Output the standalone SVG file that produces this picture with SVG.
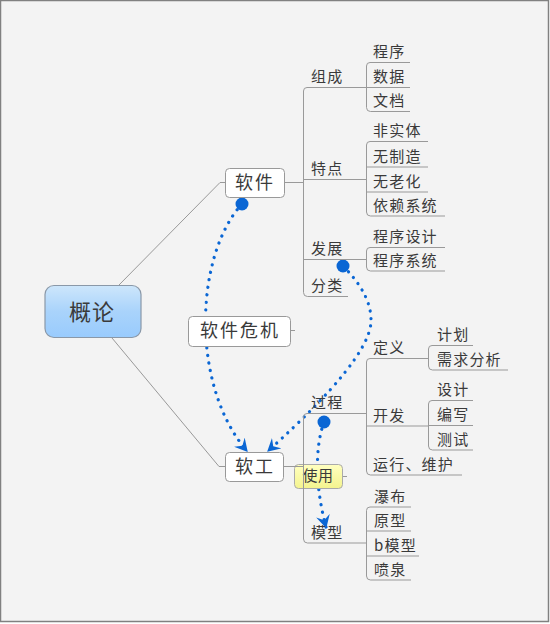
<svg xmlns="http://www.w3.org/2000/svg" width="550" height="624" viewBox="0 0 550 624">
<defs>
<linearGradient id="gCenter" x1="0" y1="0" x2="0" y2="1">
<stop offset="0" stop-color="#cde6fb"/>
<stop offset="0.5" stop-color="#a9d3fb"/>
<stop offset="1" stop-color="#99cbfd"/>
</linearGradient>
<linearGradient id="gNote" x1="0" y1="0" x2="0" y2="1">
<stop offset="0" stop-color="#ffffc0"/>
<stop offset="1" stop-color="#f4f48e"/>
</linearGradient>
<marker id="arr" markerUnits="userSpaceOnUse" markerWidth="14" markerHeight="14" refX="10" refY="6" orient="auto" viewBox="0 0 12 12">
<path d="M0,0 L11,6 L0,12 L4,6 Z" fill="#0a66d4"/>
</marker>
<style>
.t{font-family:"Noto Sans CJK SC","Liberation Sans",sans-serif;fill:#3a3a3a;}
.s{font-size:15px;letter-spacing:1.2px;}
.n{font-size:18px;letter-spacing:2px;text-anchor:middle;}
.ln{fill:none;stroke:#999;stroke-width:1;}
.rel{fill:none;stroke:#0a66d4;stroke-width:3.2;stroke-linecap:round;stroke-dasharray:0.1 7.5;}
.box{fill:#fff;stroke:#999;stroke-width:1;}
.dot{fill:#0a66d4;}
</style>
</defs>
<rect x="0.5" y="0.5" width="548" height="621" fill="#f3f3f3" stroke="#808080" stroke-width="1.5"/>

<g id="relationships">
<path class="rel" d="M242,204 C195,255 190,385 247,451" marker-end="url(#arr)"/>
<path class="rel" d="M343,266 Q372,295 371,322 Q369,360 268,451" marker-end="url(#arr)"/>
<path class="rel" d="M324,422 C314,450 316,490 326,527" marker-end="url(#arr)"/>
<circle class="dot" cx="242" cy="204" r="6.5"/>
<circle class="dot" cx="343" cy="266" r="6.5"/>
<circle class="dot" cx="324" cy="422" r="6.5"/>
</g>

<g id="label-crisis">
<rect class="box" x="188.5" y="316.5" width="102" height="30" rx="4"/>
<line class="ln" x1="291" y1="330.5" x2="295" y2="330.5"/>
<text class="t n" x="240" y="337">软件危机</text>
</g>
<g id="label-use">
<rect x="294.5" y="464.5" width="48" height="24" rx="4" fill="url(#gNote)" stroke="#aaa"/>
<line class="ln" x1="343" y1="476.5" x2="347" y2="476.5"/>
<text class="t" x="318" y="481" font-size="15" text-anchor="middle" letter-spacing="0.5">使用</text>
</g>

<g id="connectors">
<path class="ln" d="M119,285 L220,182.5 H225"/>
<path class="ln" d="M112,338 L219,466.5 H225"/>
<path class="ln" d="M284,182.5 H303"/>
<path class="ln" d="M366,87.5 H307 Q303.5,87.5 303.5,91 V292.5 Q303.5,296.5 307.5,296.5 H348"/>
<path class="ln" d="M303.5,179.5 H366"/>
<path class="ln" d="M303.5,259.5 H366"/>
<path class="ln" d="M410,62.5 H370 Q366.5,62.5 366.5,66 V107.5 Q366.5,111.5 370.5,111.5 H410"/>
<path class="ln" d="M366.5,87.5 H410"/>
<path class="ln" d="M428,141.5 H370 Q366.5,141.5 366.5,145 V212 Q366.5,216 370.5,216 H445"/>
<path class="ln" d="M366.5,167 H428"/>
<path class="ln" d="M366.5,192 H428"/>
<path class="ln" d="M445,247.5 H370 Q366.5,247.5 366.5,251 V267 Q366.5,271 370.5,271 H445"/>
<path class="ln" d="M283,466.5 H303"/>
<path class="ln" d="M366,413.5 H307 Q303.5,413.5 303.5,417 V539 Q303.5,543 307.5,543 H366"/>
<path class="ln" d="M428,358.5 H370 Q366.5,358.5 366.5,362 V471 Q366.5,475 370.5,475 H462"/>
<path class="ln" d="M366.5,426 H428"/>
<path class="ln" d="M473,345.5 H432 Q428.5,345.5 428.5,349 V366 Q428.5,370 432.5,370 H508"/>
<path class="ln" d="M473,400.5 H432 Q428.5,400.5 428.5,404 V446 Q428.5,450 432.5,450 H473"/>
<path class="ln" d="M428.5,425.5 H473"/>
<path class="ln" d="M411,507 H370 Q366.5,507 366.5,510.5 V576 Q366.5,580 370.5,580 H411"/>
<path class="ln" d="M366.5,531 H411"/>
<path class="ln" d="M366.5,556 H419"/>
</g>

<g id="node-center">
<rect x="45" y="285.5" width="96" height="52" rx="9" fill="url(#gCenter)" stroke="#8a98a8" stroke-width="1.2"/>
<text class="t" x="92" y="320" font-size="22" text-anchor="middle" letter-spacing="1">概论</text>
</g>
<g id="node-software">
<rect class="box" x="225.5" y="168.5" width="59" height="29" rx="4"/>
<text class="t n" x="255" y="189">软件</text>
</g>
<g id="node-se">
<rect class="box" x="225.5" y="452.5" width="58" height="29" rx="4"/>
<text class="t n" x="255" y="473">软工</text>
</g>

<g id="topics-software">
<text class="t s" x="311" y="82">组成</text>
<text class="t s" x="311" y="174">特点</text>
<text class="t s" x="311" y="254">发展</text>
<text class="t s" x="311" y="291">分类</text>
<text class="t s" x="373" y="57">程序</text>
<text class="t s" x="373" y="82">数据</text>
<text class="t s" x="373" y="106">文档</text>
<text class="t s" x="373" y="136">非实体</text>
<text class="t s" x="373" y="162">无制造</text>
<text class="t s" x="373" y="187">无老化</text>
<text class="t s" x="373" y="211">依赖系统</text>
<text class="t s" x="373" y="242">程序设计</text>
<text class="t s" x="373" y="266">程序系统</text>
</g>
<g id="topics-se">
<text class="t s" x="311" y="408">过程</text>
<text class="t s" x="311" y="538">模型</text>
<text class="t s" x="373" y="353">定义</text>
<text class="t s" x="373" y="421">开发</text>
<text class="t s" x="373" y="470">运行、维护</text>
<text class="t s" x="437" y="340">计划</text>
<text class="t s" x="437" y="365">需求分析</text>
<text class="t s" x="437" y="395">设计</text>
<text class="t s" x="437" y="420">编写</text>
<text class="t s" x="437" y="445">测试</text>
<text class="t s" x="374" y="502">瀑布</text>
<text class="t s" x="374" y="526">原型</text>
<text class="t s" x="374" y="551">b模型</text>
<text class="t s" x="374" y="575">喷泉</text>
</g>
</svg>
